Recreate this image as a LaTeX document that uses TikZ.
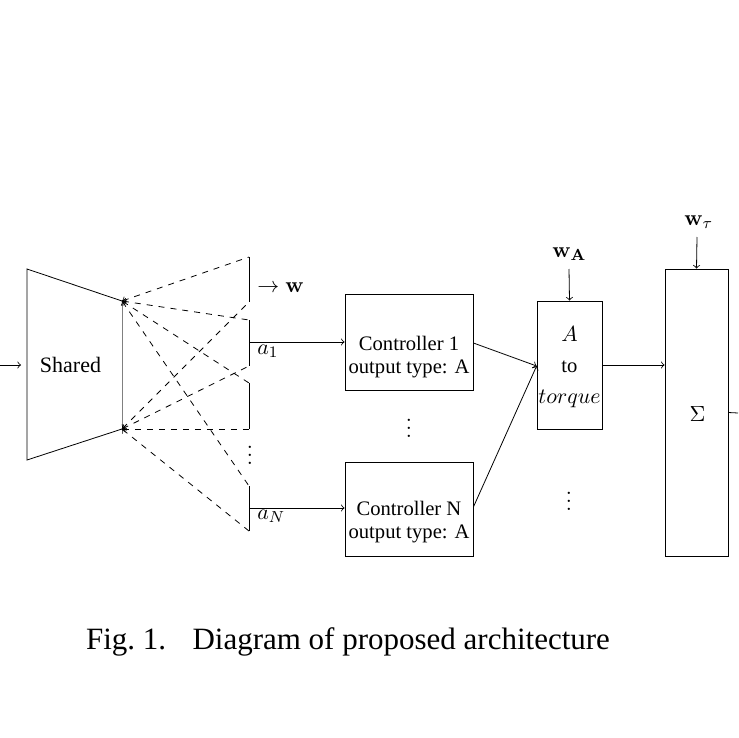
\documentclass[tikz,border=0pt]{standalone}
\usepackage[no-math]{fontspec}
\setmainfont{Liberation Serif}
\newcommand\mth[1]{{\fontsize{11.2}{13}\selectfont$#1$}}
\newcommand\vdt{{\fontsize{11.2}{13}\selectfont\vbox{\baselineskip4pt\lineskiplimit0pt\hbox{$.$}\hbox{$.$}\hbox{$.$}}}}
\begin{document}
\begin{tikzpicture}[x=0.5pt,y=-0.5pt,
  every node/.style={font=\fontsize{10.3}{11.2}\selectfont},
  box/.style={draw,minimum width=#1,inner sep=0pt},
  txt/.style={inner sep=0pt,align=center},
  dl/.style={dashed,<-},
  lbl/.style={inner sep=0pt}]
\useasboundingbox (0,0) rectangle (738,738);
% trapezoid
\coordinate (tl) at (27,269);
\coordinate (bl) at (27,460);
\coordinate (tr) at (122,301);
\coordinate (br) at (122,429);
\draw (tr) -- (tl) -- (bl) -- (br);
\draw[gray] (tr) -- (br);
\node[lbl,anchor=base,font=\fontsize{11}{13}\selectfont] (shared) at (70.5,372.3) {Shared};
\coordinate (in) at (0,365);
\coordinate (inend) at (21,365);
\draw[->] (in) -- (inend);
% brackets
\coordinate (b1t) at (249,257); \coordinate (b1b) at (249,302);
\coordinate (b2t) at (249,320); \coordinate (b2b) at (249,366);
\coordinate (b3t) at (249,383); \coordinate (b3b) at (249,429);
\coordinate (b4t) at (249,486); \coordinate (b4b) at (249,531);
\foreach \i in {1,2,3,4}{
  \draw (b\i t) -- (b\i b);
  \draw[dl] (tr) -- (b\i t);
  \draw[dl] (br) -- (b\i b);
}
\node[lbl,anchor=base west] (wout) at (257,292) {\mth{\rightarrow \mathbf{w}}};
\node[lbl] (bdots) at (250,455) {\vdt};
\coordinate (a1s) at (249,342);
\coordinate (aNs) at (249,508);
% controllers
\node[box=64pt,minimum height=48pt] (c1) at (409,342) {};
\node[txt] (c1t) at (409,357) {Controller 1\\output type: A};
\node[box=64pt,minimum height=47pt] (cN) at (409,509) {};
\node[txt] (cNt) at (409,522) {Controller N\\output type: A};
\node[lbl] (cdots) at (409,428) {\vdt};
\draw[->] (a1s) -- (a1s -| c1.west);
\draw[->] (aNs) -- (aNs -| cN.west);
\node[lbl,anchor=base west] (a1l) at (257,354) {\mth{a_1}};
\node[lbl,anchor=base west] (aNl) at (257,519) {\mth{a_N}};
% A to torque
\node[box=32.5pt,minimum height=64pt] (at) at (569.5,365) {};
\node[txt,font=\fontsize{10.3}{15.5}\selectfont] (att) at (569.5,367) {\mth{A}\\to\\\mth{torque}};
\draw[->] ([yshift=-0.5pt]c1.east) -- ([yshift=-0.5pt]at.west);
\draw[->] ([yshift=1pt]cN.east) -- ([yshift=-0.5pt]at.west);
\node[lbl,anchor=base west] (wA) at (552,257) {\mth{\mathbf{w}_{\mathbf{A}}}};
\coordinate (wAs) at (569,269);
\draw[->] (wAs) -- (at.north);
\node[lbl] (adots) at (569,501) {\vdt};
% Sigma
\node[box=31.5pt,minimum height=143.5pt] (sig) at (696.5,412.5) {};
\node[lbl,anchor=base] (sigt) at (697.5,421) {\mth{\Sigma}};
\draw[->] (at.east) -- (at.east -| sig.west);
\node[lbl,anchor=base west] (wt) at (684,225) {\mth{\mathbf{w}_{\tau}}};
\coordinate (wts) at (697,237);
\draw[->] (wts) -- (sig.north);
\coordinate (out) at (738,413);
\draw (sig.east) -- (out);
% caption
\node[anchor=base,inner sep=0pt,font=\fontsize{15.5}{18}\selectfont] (cap) at (348,649.3) {Fig.~1.\hspace{0.85em}Diagram of proposed architecture};
\end{tikzpicture}
\end{document}
